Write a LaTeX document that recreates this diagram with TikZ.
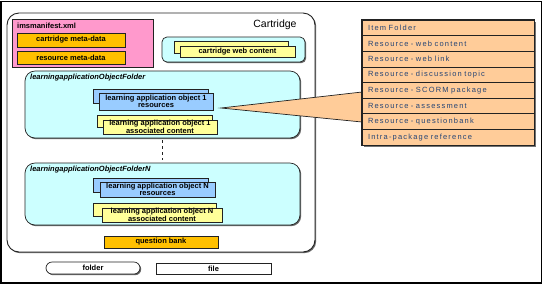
\documentclass[tikz,border=0pt]{standalone}
\usepackage{fontspec}
\setmainfont{Liberation Sans}
\newfontfamily\listfont[LetterSpace=16,WordSpace=1.6]{Liberation Sans}
\usetikzlibrary{shadows}
\definecolor{pinkbox}{HTML}{FF99CC}
\definecolor{goldbox}{HTML}{FFC000}
\definecolor{cyanbox}{HTML}{CCFFFF}
\definecolor{bluebox}{HTML}{99CCFF}
\definecolor{yellowbox}{HTML}{FFFF99}
\definecolor{peach}{HTML}{FFCC99}
\definecolor{listtext}{HTML}{244475}
\definecolor{edge}{HTML}{222222}
\begin{document}
\begin{tikzpicture}[x=1pt,y=-1pt,
  sz/.style 2 args={minimum width=#1pt, minimum height=#2pt},
  shd/.style={drop shadow={shadow xshift=1.2pt, shadow yshift=-1.2pt, fill=black!60, opacity=1}},
  base/.style={draw=edge, line width=0.7pt, inner sep=0pt, align=center,
    font=\fontsize{7.5}{7.5}\selectfont\bfseries},
  gold/.style={base, fill=goldbox, shd},
  blue/.style={base, fill=bluebox, shd},
  yell/.style={base, fill=yellowbox, shd},
  folderbox/.style={base, fill=cyanbox, rounded corners=10pt, shd},
  flabel/.style={inner sep=0pt, anchor=west, font=\fontsize{7.5}{7.5}\selectfont\bfseries\itshape},
  listrow/.style={draw=edge, line width=0.7pt, fill=peach, inner xsep=6pt, inner ysep=0pt,
    text width=160pt, align=left, minimum height=15.625pt, text=listtext,
    font=\fontsize{7.5}{7.5}\listfont}
]
\useasboundingbox (0,0) rectangle (543,285);
\fill[white] (0,0) rectangle (543,285);
% outer frame
\draw[line width=1.2pt] (1,1.5) rectangle (541.5,283);

% cartridge
\node[draw=edge, line width=0.9pt, fill=white, rounded corners=12pt, sz={308}{239}, shd] (cart) at (161,132.5) {};
\node[inner sep=0pt, font=\fontsize{10.5}{10.5}\selectfont] (cartlbl) at (275,25) {Cartridge};

% manifest
\node[base, fill=pinkbox, sz={141}{48}] (manifest) at (82.5,43) {};
\node[flabel, font=\fontsize{7.5}{7.5}\selectfont\bfseries] (manlbl) at (17,26) {imsmanifest.xml};
\node[gold, sz={108}{14}] (cmeta) at (71,40) {cartridge meta-data};
\node[gold, sz={108}{13}] (rmeta) at (71,57.5) {resource meta-data};

% cartridge web content
\node[base, fill=cyanbox, rounded corners=5pt, sz={143}{25}, shd] (webfold) at (233.5,49.5) {};
\node[yell, sz={114}{12}] (webback) at (231,47) {};
\node[yell, sz={115}{11}] (web) at (237.5,51.5) {cartridge web content};

% learning application object folder 1
\node[folderbox, sz={275}{67}] (f1) at (162.5,104.5) {};
\node[flabel] (f1lbl) at (30,78) {learningapplicationObjectFolder};
\node[blue, sz={115}{14}] (r1back) at (150.5,96) {};
\node[blue, sz={114}{17}] (r1) at (156,101.5) {learning application object 1\\resources};
\node[yell, sz={115}{12}] (a1back) at (154.5,121) {};
\node[yell, sz={114}{14}] (a1) at (160,127) {learning application object 1\\associated content};

% learning application object folder N
\node[folderbox, sz={275}{62}] (fN) at (162.5,194) {};
\node[flabel] (fNlbl) at (30,170) {learningapplicationObjectFolderN};
\node[blue, sz={115}{14}] (rNback) at (150.5,185) {};
\node[blue, sz={115}{15}] (rN) at (157.5,189.5) {learning application object N\\resources};
\node[yell, sz={123}{13}] (aNback) at (154.5,209.5) {};
\node[yell, sz={120}{14}] (aN) at (162,215) {learning application object N\\associated content};

\draw[dashed, edge, line width=0.6pt, shorten <=2pt, shorten >=3pt] (f1.south) -- (fN.north);

% question bank
\node[gold, sz={114}{12}] (qbank) at (161,242) {question bank};

% legend
\node[base, fill=white, rounded corners=6pt, sz={94}{12}, shd] (legfolder) at (93,268) {folder};
\node[base, fill=white, sz={115}{11}, shd] (legfile) at (213.5,268.5) {file};

% callout wedge to the resource type list
\coordinate (tip) at (221,108);
\coordinate (wA) at (362,92);
\coordinate (wB) at (362,122);
\draw[draw=edge, line width=0.7pt, fill=peach] (tip) -- (wA) -- (wB) -- cycle;

% resource type list
\foreach \t [count=\i] in {Item Folder, Resource - web content, Resource - web link,
    Resource - discussion topic, Resource - SCORM package, Resource - assessment,
    Resource - questionbank, Intra-package reference}
  \node[listrow] (row\i) at (448,{20+15.625*(\i-0.5)}) {\t};
\fill[black!55] (364,145) rectangle (536,147);
\fill[black!55] (534,22) rectangle (536,147);
\draw[line width=1.5pt, edge] (row1.north west) rectangle (row8.south east);
\end{tikzpicture}
\end{document}
